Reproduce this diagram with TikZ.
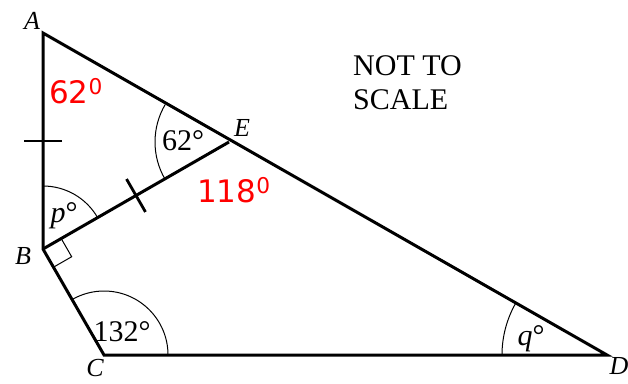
\documentclass[tikz,border=0pt]{standalone}
\usepackage{fontspec}
\setmainfont{Liberation Serif}
\newfontfamily\redfont{DejaVu Sans}
\usetikzlibrary{angles, calc, quotes}
\tikzset{
    x=1pt, y=-1pt,
    tri_side/.style={
        line width=3pt,
        line join=miter
    },
    tri_tick/.style={
        line width=2.8pt
    },
    tri_arc/.style={
        draw,
        line width=1pt
    },
    tri_vertex/.style={
        font=\fontsize{26}{30}\selectfont\itshape,
        inner sep=0pt
    },
    tri_angle/.style={
        font=\fontsize{30}{33}\selectfont,
        inner sep=0pt
    },
    tri_answer/.style={
        text=red,
        font=\redfont\fontsize{31}{34}\selectfont,
        inner sep=0pt
    },
    tri_note/.style={
        font=\fontsize{30}{34}\selectfont,
        align=left,
        inner sep=0pt
    }
}

\begin{document}
\begin{tikzpicture}
\useasboundingbox (0,0) rectangle (628,383);

% --- Vertices ---
\coordinate (A) at (43,33);
\coordinate (B) at (43,249);
\coordinate (C) at (104,355);
\coordinate (D) at (607,355);
\coordinate (E) at (229,142);

% --- Sides ---
\draw[tri_side] (A) -- (B) -- (C) -- (D) -- cycle;
\draw[tri_side] (B) -- (E);

% --- Equal-length ticks ---
\coordinate (midAB) at ($(A)!0.5!(B)$);
\coordinate (midBE) at ($(B)!0.5!(E)$);
\draw[tri_tick] ($(midAB)!19pt!90:(B)$) -- ($(midAB)!19pt!-90:(B)$);
\draw[tri_tick] ($(midBE)!19pt!90:(E)$) -- ($(midBE)!19pt!-90:(E)$);

% --- Angle marks ---
\pic[tri_arc, angle radius=74pt] {angle=A--E--B};
\pic[tri_arc, angle radius=63pt] {angle=E--B--A};
\pic[tri_arc, angle radius=64pt] {angle=D--C--B};
\pic[tri_arc, angle radius=105pt] {angle=E--D--C};
\pic[tri_arc, angle radius=21pt] {right angle=C--B--E};

% --- Vertex labels ---
\node[tri_vertex] (labA) at (32,21) {A};
\node[tri_vertex] (labB) at (23,256) {B};
\node[tri_vertex] (labC) at (95,368) {C};
\node[tri_vertex] (labD) at (619,366) {D};
\node[tri_vertex] (labE) at (242,128) {E};

% --- Angle labels ---
\node[tri_angle] (angE) at (183,141) {62°};
\node[tri_angle] (angB) at (64,216) {\textit{p}°};
\node[tri_angle] (angC) at (122,332) {132°};
\node[tri_angle] (angD) at (531,339) {\textit{q}°};

% --- Worked answers ---
\node[tri_answer] (ansA) at (76,91) {62\textsuperscript{0}};
\node[tri_answer] (ansE) at (234,190) {118\textsuperscript{0}};

\node[tri_note, anchor=north west] (note) at (353,55) {NOT TO\\SCALE};

\end{tikzpicture}
\end{document}
